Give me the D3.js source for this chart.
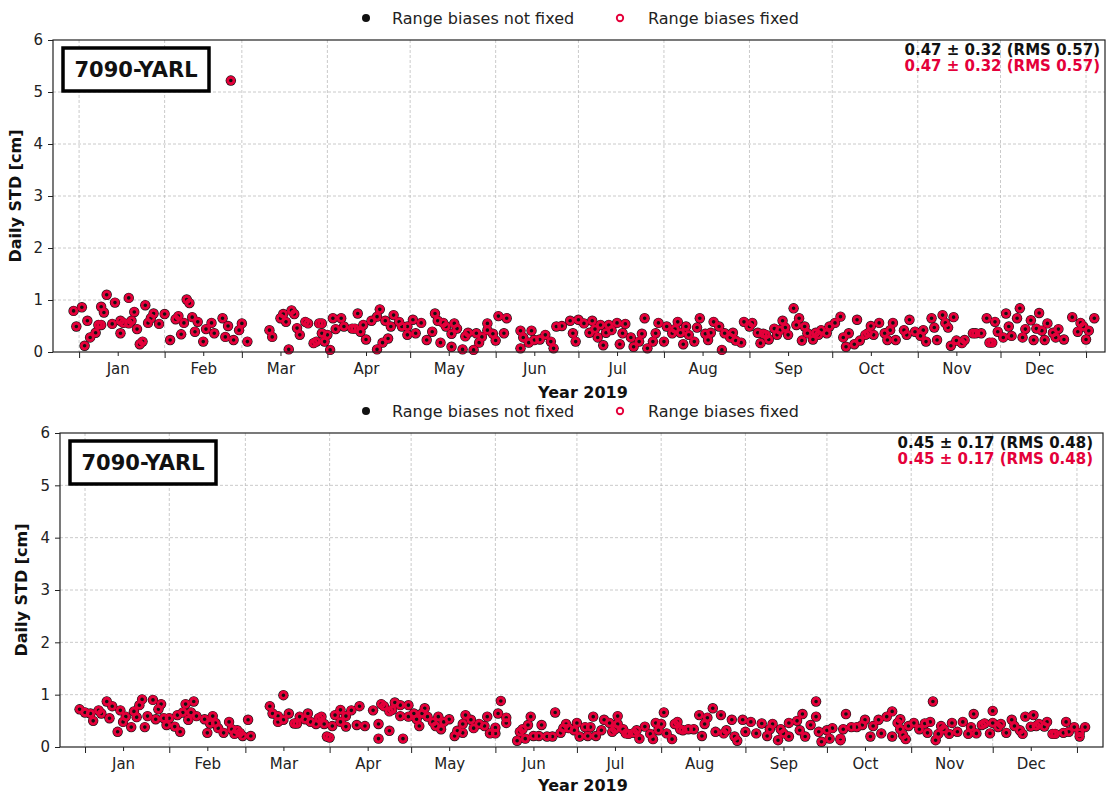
<!DOCTYPE html>
<html>
<head>
<meta charset="utf-8">
<script src="https://cdn.jsdelivr.net/npm/d3@7"></script>
<style>
  body { margin: 0; background: #fff; }
  svg text { font-family: "DejaVu Sans", sans-serif; }
</style>
</head>
<body>
<div id="chart"></div>
<script>
// day offsets from 2019-01-01 and daily STD [cm]
const topDays = [-2,1,-1,2,3,4,6,7,8,8,9,10,12,13,15,15,16,18,18,19,20,21,22,23,24,25,26,27,29,31,33,35,36,37,38,39,40,41,42,43,45,46,48,49,52,53,54,55,56,58,59,61,
  69,70,73,74,75,76,77,78,79,80,82,83,85,86,87,88,88,89,90,91,92,93,95,96,99,100,101,102,103,104,106,108,108,109,110,111,112,113,114,116,117,119,119,
  121,122,124,126,128,129,130,131,132,133,135,135,136,137,139,140,141,143,144,145,146,148,148,150,151,152,154,155,160,160,161,163,164,165,167,169,171,172,173,175,
  178,179,180,181,183,185,186,187,188,189,190,191,192,193,195,196,197,198,200,201,203,204,205,206,208,209,210,212,213,215,216,217,218,219,220,221,223,224,225,227,
  228,229,230,232,233,234,236,237,238,240,241,243,244,246,247,248,249,250,252,253,254,255,256,257,259,260,261,262,263,264,266,267,268,269,271,272,274,276,278,
  277,279,281,282,283,285,286,287,288,290,292,293,294,295,296,299,300,301,303,305,306,307,309,310,311,313,314,315,317,316,318,320,321,324,325,327,329,330,331,
  332,333,335,336,337,338,340,341,342,343,345,346,347,348,349,350,351,353,354,355,357,360,362,363,364,365,366,368];
const topStd = [0.79,0.86,0.49,0.12,0.60,0.28,0.37,0.52,0.52,0.87,0.76,1.10,0.54,0.95,0.60,0.36,0.56,1.04,0.55,0.60,0.77,0.44,0.15,0.20,0.90,0.56,0.65,0.74,0.54,0.73,0.23,0.63,0.69,0.34,0.56,1.01,0.94,0.67,0.39,0.58,0.20,0.44,0.56,0.36,0.65,0.29,0.50,5.22,0.23,0.42,0.55,0.20,
  0.42,0.29,0.65,0.73,0.58,0.05,0.80,0.73,0.46,0.33,0.58,0.55,0.17,0.20,0.55,0.55,0.36,0.20,0.33,0.04,0.65,0.44,0.65,0.49,0.45,0.45,0.74,0.39,0.52,0.24,0.60,0.68,0.05,0.82,0.18,0.60,0.26,0.49,0.71,0.58,0.49,0.49,0.33,
  0.62,0.36,0.56,0.23,0.39,0.74,0.60,0.18,0.56,0.49,0.10,0.35,0.55,0.45,0.05,0.30,0.37,0.04,0.36,0.18,0.29,0.42,0.55,0.35,0.22,0.69,0.36,0.65,0.41,0.07,0.28,0.18,0.41,0.23,0.24,0.33,0.20,0.07,0.49,0.50,
  0.60,0.36,0.20,0.62,0.55,0.37,0.60,0.44,0.28,0.52,0.13,0.37,0.52,0.42,0.56,0.15,0.36,0.54,0.28,0.10,0.20,0.35,0.65,0.07,0.20,0.36,0.56,0.20,0.49,0.36,0.44,0.58,0.37,0.15,0.49,0.33,0.20,0.47,0.65,0.35,
  0.23,0.37,0.58,0.49,0.04,0.36,0.28,0.37,0.22,0.18,0.58,0.49,0.56,0.37,0.17,0.35,0.33,0.24,0.45,0.33,0.42,0.60,0.47,0.33,0.84,0.52,0.65,0.22,0.49,0.36,0.24,0.37,0.33,0.42,0.36,0.49,0.56,0.68,0.10,
  0.28,0.36,0.15,0.62,0.22,0.33,0.36,0.50,0.33,0.56,0.36,0.23,0.42,0.56,0.23,0.42,0.33,0.62,0.39,0.31,0.42,0.20,0.65,0.47,0.23,0.71,0.56,0.47,0.67,0.12,0.22,0.17,0.23,0.36,0.36,0.36,0.65,0.18,0.18,
  0.58,0.39,0.28,0.74,0.49,0.31,0.65,0.84,0.28,0.44,0.61,0.23,0.45,0.75,0.41,0.23,0.55,0.37,0.28,0.44,0.24,0.67,0.39,0.56,0.49,0.24,0.41,0.65];
const topFixed = topStd;

const bottomDays = [-2,0,2,3,5,6,8,9,10,12,13,14,15,17,18,19,20,21,22,23,25,26,27,28,29,30,31,33,34,35,36,37,38,39,40,41,44,45,46,47,48,49,51,53,54,55,56,57,58,60,61,
  68,69,71,71,73,73,75,77,78,79,81,82,83,85,86,87,88,89,90,91,92,94,94,96,96,98,100,101,103,106,108,108,109,110,112,112,113,114,116,116,117,119,119,121,122,123,124,125,126,
  128,129,130,131,132,134,136,137,139,139,140,142,143,145,147,148,149,151,151,152,153,155,155,159,160,161,162,163,164,165,167,168,170,172,173,175,176,177,178,180,181,182,
  184,185,186,187,188,190,191,193,194,195,196,196,198,199,200,202,203,204,206,208,209,210,211,212,213,214,216,217,218,219,220,222,224,226,227,228,229,231,232,234,235,236,
  238,239,240,242,243,245,247,249,251,252,253,255,256,257,259,259,262,263,264,265,267,269,269,270,271,273,274,275,278,278,279,280,282,284,286,287,289,290,292,293,295,297,
  297,299,300,300,301,302,303,305,307,309,310,311,312,313,314,315,316,318,319,321,323,325,326,327,328,330,331,333,334,334,336,337,339,341,342,344,345,346,348,349,350,351,
  353,354,356,357,360,361,362,364,366,366,368];
const bottomStd = [0.72,0.66,0.64,0.50,0.70,0.64,0.87,0.55,0.78,0.29,0.70,0.48,0.58,0.38,0.68,0.57,0.80,0.91,0.38,0.59,0.90,0.53,0.72,0.82,0.55,0.42,0.55,0.39,0.61,0.29,0.66,0.82,0.52,0.66,0.87,0.59,0.53,0.27,0.45,0.59,0.46,0.36,0.27,0.48,0.34,0.25,0.32,0.27,0.21,0.52,0.21,
  0.78,0.64,0.48,0.59,0.99,0.52,0.64,0.45,0.45,0.58,0.53,0.64,0.48,0.44,0.55,0.58,0.44,0.20,0.18,0.40,0.61,0.48,0.71,0.59,0.39,0.70,0.42,0.78,0.40,0.70,0.44,0.16,0.82,0.78,0.68,0.31,0.71,0.85,0.80,0.59,0.16,0.80,0.58,0.64,0.53,0.40,0.64,0.74,0.58,
  0.48,0.40,0.58,0.34,0.48,0.53,0.21,0.31,0.44,0.27,0.61,0.52,0.36,0.44,0.40,0.58,0.26,0.26,0.37,0.64,0.88,0.46,0.56,0.12,0.29,0.34,0.16,0.42,0.58,0.21,0.21,0.42,0.20,0.20,0.66,0.27,0.36,0.44,0.36,0.32,0.46,0.20,
  0.38,0.21,0.38,0.58,0.21,0.32,0.52,0.46,0.29,0.34,0.44,0.59,0.34,0.26,0.25,0.27,0.32,0.16,0.39,0.25,0.15,0.46,0.32,0.44,0.66,0.26,0.15,0.44,0.48,0.34,0.32,0.34,0.34,0.61,0.21,0.44,0.56,0.74,0.29,0.61,0.26,0.32,
  0.52,0.20,0.12,0.52,0.29,0.48,0.26,0.45,0.21,0.34,0.44,0.13,0.34,0.26,0.46,0.20,0.50,0.32,0.63,0.20,0.42,0.87,0.58,0.29,0.10,0.32,0.16,0.36,0.16,0.13,0.34,0.63,0.38,0.38,0.42,0.52,0.20,0.40,0.52,0.26,0.58,0.68,
  0.20,0.46,0.53,0.34,0.23,0.15,0.40,0.46,0.34,0.45,0.27,0.48,0.87,0.13,0.25,0.40,0.34,0.25,0.46,0.29,0.48,0.25,0.38,0.63,0.26,0.42,0.45,0.26,0.46,0.69,0.38,0.44,0.27,0.52,0.40,0.32,0.25,0.58,0.39,0.61,0.40,0.44,
  0.39,0.48,0.25,0.25,0.27,0.48,0.29,0.38,0.20,0.27,0.38];
const bottomFixed = bottomStd;

const monthNames = ["Jan","Feb","Mar","Apr","May","Jun","Jul","Aug","Sep","Oct","Nov","Dec"];
const yTicks = [0, 1, 2, 3, 4, 5, 6];
const seriesNames = ["Range biases not fixed", "Range biases fixed"];
const stationName = "7090-YARL";
const topStats = "0.47 \u00b1 0.32 (RMS 0.57)";
const bottomStats = "0.45 \u00b1 0.17 (RMS 0.48)";

const red = "#e4003a";
const W = 1109, H = 794;
const base = new Date(2019, 0, 1);
const dayToDate = d => d3.timeDay.offset(base, d);

const svg = d3.select("#chart").append("svg")
  .attr("width", W).attr("height", H)
  .attr("viewBox", `0 0 ${W} ${H}`);

function drawPanel(cfg) {
  const g = svg.append("g");
  const x = d3.scaleTime()
    .domain([d3.timeHour.offset(base, cfg.d0 * 24), d3.timeHour.offset(base, cfg.d1 * 24)])
    .range([cfg.left, cfg.right]);
  const y = d3.scaleLinear().domain([0, 6]).range([cfg.bottom, cfg.top]);

  const monthStarts = d3.timeMonth.range(new Date(2019, 0, 1), new Date(2020, 0, 2));
  const midMonths = monthStarts.slice(0, 12).map(m => new Date(m.getFullYear(), m.getMonth(), 15));

  // grid
  g.append("g").selectAll("line").data(monthStarts).join("line")
    .attr("x1", d => x(d)).attr("x2", d => x(d))
    .attr("y1", cfg.top).attr("y2", cfg.bottom)
    .attr("stroke", "#bdbdbd").attr("stroke-width", 0.8).attr("stroke-dasharray", "3,2");
  g.append("g").selectAll("line").data(yTicks.slice(1, -1)).join("line")
    .attr("x1", cfg.left).attr("x2", cfg.right)
    .attr("y1", d => y(d)).attr("y2", d => y(d))
    .attr("stroke", "#bdbdbd").attr("stroke-width", 0.8).attr("stroke-dasharray", "3,2");

  // axes
  const xMajor = g.append("g").attr("transform", `translate(0,${cfg.bottom})`)
    .call(d3.axisBottom(x).tickValues(monthStarts).tickFormat("").tickSize(6));
  const xMinor = g.append("g").attr("transform", `translate(0,${cfg.bottom})`)
    .call(d3.axisBottom(x).tickValues(midMonths).tickFormat((d, i) => monthNames[i]).tickSize(4).tickPadding(7));
  const yAx = g.append("g").attr("transform", `translate(${cfg.left},0)`)
    .call(d3.axisLeft(y).tickValues(yTicks).tickFormat(d3.format("d")).tickSize(5).tickPadding(5));
  [xMajor, xMinor, yAx].forEach(a => {
    a.select(".domain").remove();
    a.selectAll("text").attr("font-size", 15).attr("fill", "#222")
      .attr("font-family", "DejaVu Sans, sans-serif");
    a.selectAll("line").attr("stroke", "#222");
  });

  // points: black marker under red open marker
  const pts = cfg.days.map((d, i) => ({ d, v: cfg.std[i], f: cfg.fixed[i] }))
    .filter(p => p.v <= 6);
  g.append("g").selectAll("circle").data(pts).join("circle")
    .attr("cx", p => x(dayToDate(p.d))).attr("cy", p => y(p.v))
    .attr("r", 5.2).attr("fill", "#111");
  g.append("g").selectAll("circle").data(pts).join("circle")
    .attr("cx", p => x(dayToDate(p.d))).attr("cy", p => y(p.f))
    .attr("r", 3.2).attr("fill", "none").attr("stroke", red).attr("stroke-width", 2.8);

  // frame
  g.append("rect")
    .attr("x", cfg.left).attr("y", cfg.top)
    .attr("width", cfg.right - cfg.left).attr("height", cfg.bottom - cfg.top)
    .attr("fill", "none").attr("stroke", "#222").attr("stroke-width", 1.2);

  // station box
  const bx = cfg.left + 10, by = cfg.top + 8;
  g.append("rect").attr("x", bx).attr("y", by).attr("width", 146).attr("height", 43)
    .attr("fill", "#fff").attr("stroke", "#000").attr("stroke-width", 3.5);
  g.append("text").attr("x", bx + 73).attr("y", by + 29).attr("text-anchor", "middle")
    .attr("font-size", 21).attr("font-weight", "bold").attr("fill", "#111").text(stationName);

  // stats
  g.append("text").attr("x", cfg.statsX).attr("y", cfg.top + 15).attr("text-anchor", "end")
    .attr("font-size", 15).attr("font-weight", "bold").attr("fill", "#111").text(cfg.stats);
  g.append("text").attr("x", cfg.statsX).attr("y", cfg.top + 31).attr("text-anchor", "end")
    .attr("font-size", 15).attr("font-weight", "bold").attr("fill", red).text(cfg.stats);

  // axis labels
  g.append("text").attr("x", 583).attr("y", cfg.xlabY).attr("text-anchor", "middle")
    .attr("font-size", 16).attr("font-weight", "bold").attr("fill", "#111").text("Year 2019");
  g.append("text")
    .attr("transform", `translate(${cfg.ylabX},${(cfg.top + cfg.bottom) / 2}) rotate(-90)`)
    .attr("text-anchor", "middle").attr("font-size", 16).attr("font-weight", "bold")
    .attr("fill", "#111").text("Daily STD [cm]");

  // legend above the panel
  const ly = cfg.top - 22;
  g.append("circle").attr("cx", 366).attr("cy", ly).attr("r", 4).attr("fill", "#111");
  g.append("text").attr("x", 392).attr("y", ly + 5.5).attr("font-size", 16).attr("fill", "#222").text(seriesNames[0]);
  g.append("circle").attr("cx", 620).attr("cy", ly).attr("r", 3.2).attr("fill", "none")
    .attr("stroke", red).attr("stroke-width", 1.9);
  g.append("text").attr("x", 648).attr("y", ly + 5.5).attr("font-size", 16).attr("fill", "#222").text(seriesNames[1]);
}

drawPanel({ left: 53, right: 1105, top: 40, bottom: 352, d0: -9.42, d1: 371.9,
  days: topDays, std: topStd, fixed: topFixed, stats: topStats, statsX: 1100, ylabX: 21, xlabY: 398 });
drawPanel({ left: 60, right: 1103, top: 433, bottom: 747, d0: -9.2, d1: 374.6,
  days: bottomDays, std: bottomStd, fixed: bottomFixed, stats: bottomStats, statsX: 1093, ylabX: 27, xlabY: 791 });
</script>
</body>
</html>
